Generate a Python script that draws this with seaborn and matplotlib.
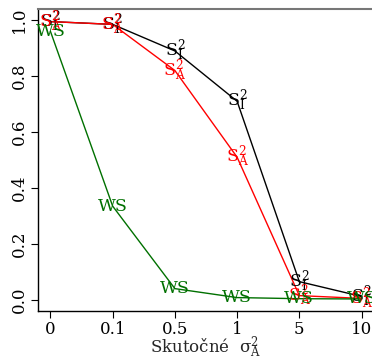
import matplotlib
matplotlib.use("Agg")
import matplotlib.pyplot as plt
import seaborn as sns
import pandas as pd

categories = ["0", "0.1", "0.5", "1", "5", "10"]
s_i = [0.995, 0.985, 0.89, 0.71, 0.065, 0.012]
s_a = [0.995, 0.985, 0.82, 0.51, 0.015, 0.005]
ws = [0.96, 0.335, 0.04, 0.008, 0.004, 0.003]

series = [
    (s_i, "black", r"$\mathregular{S^2_I}$"),
    (s_a, "red", r"$\mathregular{S^2_A}$"),
    (ws, "#007000", "WS"),
]

sns.set_style("white")
plt.rcParams["font.family"] = ["DejaVu Serif"]
plt.rcParams["mathtext.fontset"] = "dejavuserif"

fig = plt.figure(figsize=(3.72, 3.57), dpi=100)
ax = fig.add_axes([38 / 372, 46 / 357, 336 / 372, 302 / 357])

x = list(range(1, len(categories) + 1))
for vals, col, lab in series:
    df = pd.DataFrame({"x": x, "y": vals})
    sns.lineplot(data=df, x="x", y="y", color=col, lw=1, ax=ax, legend=False)
    for xi, yi in zip(x, vals):
        ax.text(xi, yi, lab, color=col, ha="center", va="center", fontsize=12.5)

ax.set_xlim(0.8, 6.2)
ax.set_ylim(-0.04, 1.04)
ax.set_xticks(x)
ax.set_xticklabels(categories)
ax.set_yticks([0.0, 0.2, 0.4, 0.6, 0.8, 1.0])
ax.set_yticklabels(["0.0", "0.2", "0.4", "0.6", "0.8", "1.0"], rotation=90, va="center")
ax.tick_params(axis="both", labelsize=12, length=5, width=0.8, direction="out",
               left=True, bottom=True, colors="black", pad=2)
ax.set_xlabel(r"Skutočné  $\mathregular{\sigma^2_A}$", fontsize=12, labelpad=-2)
ax.set_ylabel("")
for s in ["left", "bottom"]:
    ax.spines[s].set_color("black")
    ax.spines[s].set_linewidth(1)
ax.spines["top"].set_color("#777777")
ax.spines["top"].set_linewidth(1.5)
ax.spines["right"].set_visible(False)

fig.savefig("out.png", dpi=100)
